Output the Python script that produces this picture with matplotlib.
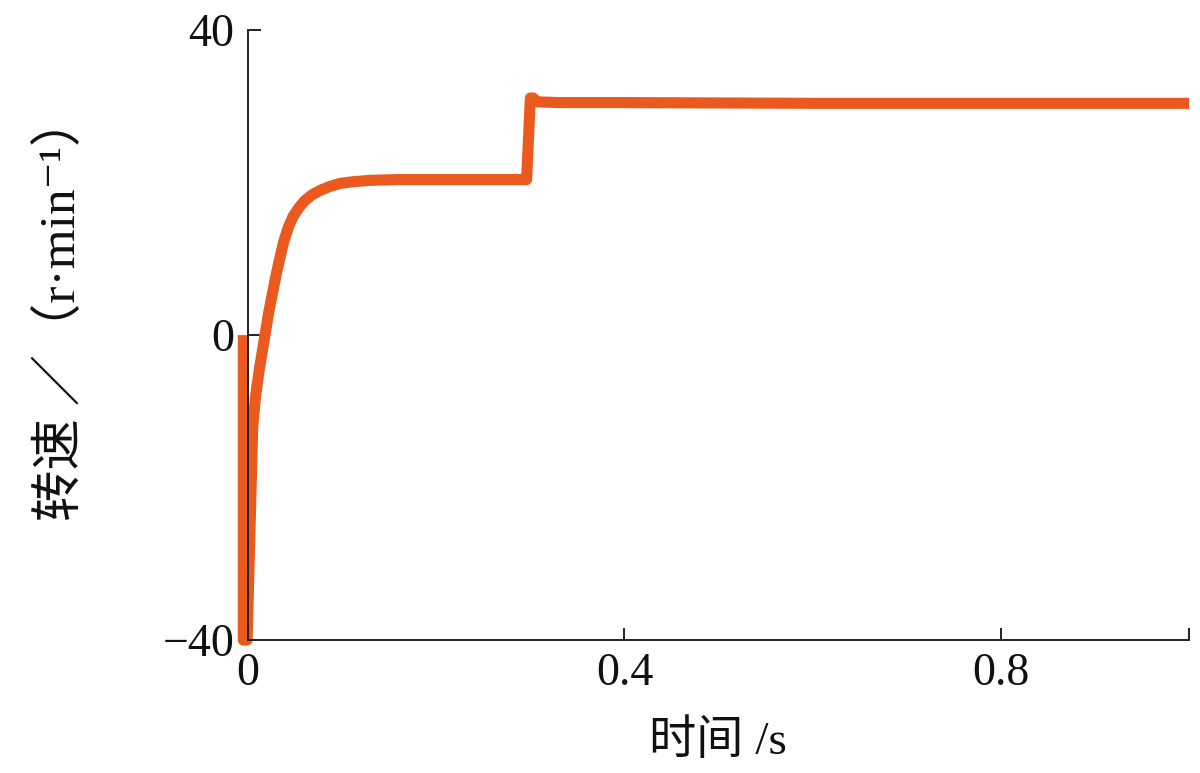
import matplotlib
matplotlib.use("Agg")
import matplotlib.pyplot as plt

# speed response
t = [-0.005, -0.005, -0.001, 0.005, 0.008, 0.012, 0.018, 0.022, 0.026, 0.030,
     0.034, 0.038, 0.043, 0.048, 0.054, 0.060, 0.068, 0.077, 0.087, 0.098,
     0.110, 0.13, 0.16, 0.20, 0.25, 0.296, 0.300, 0.303, 0.307, 0.33,
     0.40, 0.60, 0.80, 1.0]
speed = [0, -40, -40, -12, -8, -4.5, 0, 3.0, 5.5, 8.0,
         10.2, 12.3, 14.2, 15.6, 16.7, 17.6, 18.4, 19.0, 19.5, 19.9,
         20.1, 20.3, 20.4, 20.4, 20.4, 20.4, 31.1, 31.1, 30.6, 30.5,
         30.5, 30.4, 30.4, 30.4]

xticks = [0, 0.4, 0.8, 1.0]
xticklabels = ["0", "0.4", "0.8", ""]
yticks = [-40, 0, 40]
yticklabels = ["\u221240", "0", "40"]

serif = ["Liberation Serif", "Noto Sans CJK SC", "DejaVu Serif"]
plt.rcParams["font.family"] = serif

fig = plt.figure(figsize=(12, 7.73), dpi=100)
ax = fig.add_axes([0.2067, 0.172, 0.7842, 0.789])

ax.plot(t, speed, color="#EA5A1E", lw=8, clip_on=False,
        solid_capstyle="butt", solid_joinstyle="round")

ax.set_xlim(0, 1.0)
ax.set_ylim(-40, 40)
ax.set_xticks(xticks)
ax.set_xticklabels(xticklabels)
ax.set_yticks(yticks)
ax.set_yticklabels(yticklabels)

for side in ["top", "right"]:
    ax.spines[side].set_visible(False)
for side in ["left", "bottom"]:
    ax.spines[side].set_linewidth(1.4)
    ax.spines[side].set_color("#222222")

ax.tick_params(direction="in", length=9, width=1.4, color="#222222",
               labelsize=33, labelcolor="#111111")
ax.tick_params(axis="x", pad=9)
ax.tick_params(axis="y", pad=10)

fig.text(62 / 1200, 1 - 308 / 773, "转速 ／（r·min⁻¹）", rotation=90,
         ha="center", va="center", fontsize=37, color="#111111")
fig.text(718 / 1200, 1 - 742 / 773, "时间 /s",
         ha="center", va="center", fontsize=34, color="#111111")

fig.savefig("out.png", dpi=100)
